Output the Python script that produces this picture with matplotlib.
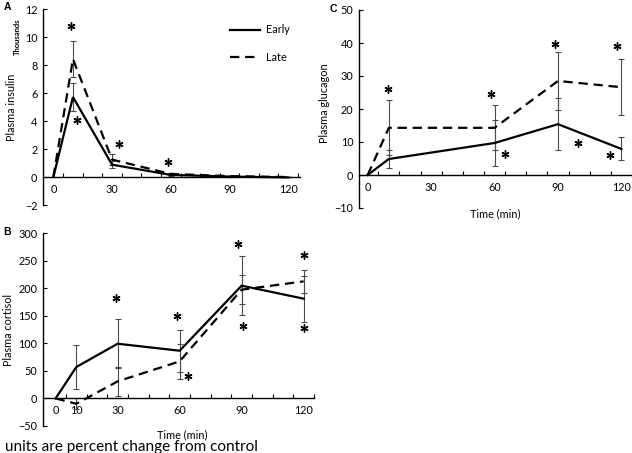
import matplotlib
matplotlib.use("Agg")
import matplotlib.pyplot as plt
from matplotlib.lines import Line2D

plt.rcParams['font.family'] = ['Lato', 'DejaVu Sans']

# ---------------- data ----------------
time = [0, 10, 30, 60, 90, 120]
insulin_early = [0, 5.71, 0.88, 0.15, 0.03, -0.03]
insulin_late = [0, 8.43, 1.24, 0.22, 0.06, 0.0]
insulin_early_err = [0, 1.0, 0.25, 0.08, 0.0, 0.0]
insulin_late_err = [0, 1.26, 0.38, 0.1, 0.0, 0.0]
insulin_sig_x = [8.9, 11.9, 33.5, 58.7]
insulin_sig_y = [10.8, 4.05, 2.38, 1.05]

cortisol_early = [0, 56.9, 99.2, 86.5, 204.5, 180.9]
cortisol_late = [0, -9.7, 30.9, 67.2, 197.2, 212.3]
cortisol_early_err = [0, 40.5, 44.0, 38.0, 54.0, 41.8]
cortisol_late_err = [0, 9.7, 27.0, 32.0, 26.0, 20.8]
cortisol_sig_x = [29.4, 58.7, 64.2, 88.1, 90.8, 120.2, 120.0]
cortisol_sig_y = [182, 149, 40, 280, 131, 261, 128]

time_glu = [0, 10, 60, 90, 120]
glucagon_early = [0, 4.85, 9.7, 15.4, 7.9]
glucagon_late = [0, 14.3, 14.3, 28.5, 26.6]
glucagon_early_err = [0, 2.8, 6.9, 7.9, 3.5]
glucagon_late_err = [0, 8.3, 6.8, 8.7, 8.5]
glucagon_sig_x = [9.6, 58.5, 64.9, 88.8, 99.7, 114.7, 117.9]
glucagon_sig_y = [26.1, 24.4, 6.5, 39.7, 9.8, 6.2, 39.2]

series_labels = ["Early", "Late"]
xtick_labels_A = [0, 30, 60, 90, 120]
xtick_labels_B = [0, 10, 30, 60, 90, 120]

# ---------------- figure ----------------
W, H = 632, 453
fig = plt.figure(figsize=(W / 100, H / 100), dpi=100)


def box(l, t, r, b):
    return [l / W, 1 - b / H, (r - l) / W, (b - t) / H]


axA = fig.add_axes(box(43, 9, 300, 205))
axB = fig.add_axes(box(43, 233, 314, 426))
axC = fig.add_axes(box(359, 10, 632, 208))

LW = 1.6
DASH = (0, (4.2, 2.6))
ECOL = '#4a4a4a'
TFS = 7.8


def style(ax, xlim, ylim, yticks, xlabels):
    ax.set_xlim(*xlim)
    ax.set_ylim(*ylim)
    for s in ['top', 'right']:
        ax.spines[s].set_visible(False)
    ax.spines['bottom'].set_position(('data', 0))
    ax.spines['left'].set_linewidth(1.0)
    ax.spines['bottom'].set_linewidth(1.0)
    ax.set_yticks(yticks)
    ax.tick_params(axis='y', direction='in', length=3, width=0.8, pad=4, labelsize=TFS)
    ax.set_xticks(xlabels)
    ax.set_xticks(list(range(5, 126, 10)), minor=True)
    ax.tick_params(axis='x', which='major', length=0, pad=5, labelsize=TFS)
    ax.tick_params(axis='x', which='minor', direction='in', length=3, width=0.8)
    ax.patch.set_alpha(0)


def draw(ax, x, e, l, ee, le, sx, sy):
    ax.plot(x, e, color='black', lw=LW, solid_joinstyle='miter', label=series_labels[0], zorder=3)
    ax.plot(x, l, color='black', lw=LW, linestyle=DASH, label=series_labels[1], zorder=3)
    ax.errorbar(x[1:], e[1:], yerr=ee[1:], fmt='none', ecolor=ECOL, elinewidth=0.8,
                capsize=2.5, capthick=0.8, zorder=2)
    ax.errorbar(x[1:], l[1:], yerr=le[1:], fmt='none', ecolor=ECOL, elinewidth=0.8,
                capsize=2.5, capthick=0.8, zorder=2)
    ax.plot(sx, sy, linestyle='none', marker=(6, 2, 0), ms=5.8, mew=1.0, color='black', zorder=4)


# Panel A
style(axA, (-5.3, 126), (-2, 12), list(range(-2, 13, 2)), xtick_labels_A)
draw(axA, time, insulin_early, insulin_late, insulin_early_err, insulin_late_err,
     insulin_sig_x, insulin_sig_y)
axA.set_ylabel("Plasma insulin", fontsize=TFS)
axA.yaxis.set_label_coords(-0.101, 0.5)
fig.text(17 / W, 1 - 37 / H, "Thousands", rotation=90, fontsize=5.5, fontweight='bold',
         ha='center', va='center')
axA.legend(handles=[Line2D([], [], color='black', lw=LW),
                    Line2D([], [], color='black', lw=LW, linestyle=DASH)],
           labels=series_labels, frameon=False, fontsize=TFS, loc='upper left',
           bbox_to_anchor=(225 / W, 1 - 19 / H), bbox_transform=fig.transFigure,
           borderpad=0, handlelength=2.7, handletextpad=0.6, labelspacing=1.5)

# Panel B
style(axB, (-6.1, 125), (-50, 300), list(range(-50, 301, 50)), xtick_labels_B)
draw(axB, time, cortisol_early, cortisol_late, cortisol_early_err, cortisol_late_err,
     cortisol_sig_x, cortisol_sig_y)
axB.set_ylabel("Plasma cortisol", fontsize=TFS)
axB.yaxis.set_label_coords(-0.107, 0.5)
axB.set_xlabel("Time (min)", fontsize=TFS)
axB.xaxis.set_label_coords((182 - 43) / 271, -(429 - 426) / 193, transform=axB.transAxes)

# Panel C
style(axC, (-4.1, 125), (-10, 50), list(range(-10, 51, 10)), xtick_labels_A)
draw(axC, time_glu, glucagon_early, glucagon_late, glucagon_early_err, glucagon_late_err,
     glucagon_sig_x, glucagon_sig_y)
axC.set_ylabel("Plasma glucagon", fontsize=TFS)
axC.yaxis.set_label_coords(-0.106, (208 - 103) / 198)
axC.set_xlabel("Time (min)", fontsize=TFS)
axC.xaxis.set_label_coords((495 - 359) / 273, 0.0)

# Panel letters
for lab, (px, py) in zip(["A", "B", "C"], [(7, 7), (7, 232), (333, 9)]):
    fig.text(px / W, 1 - py / H, lab, fontsize=7.5, fontweight='bold', ha='center', va='center',
             family='Liberation Sans')

fig.text(5 / W, 1 - 447 / H, "units are percent change from control", fontsize=11,
         ha='left', va='center')

fig.savefig("out.png", dpi=100)
